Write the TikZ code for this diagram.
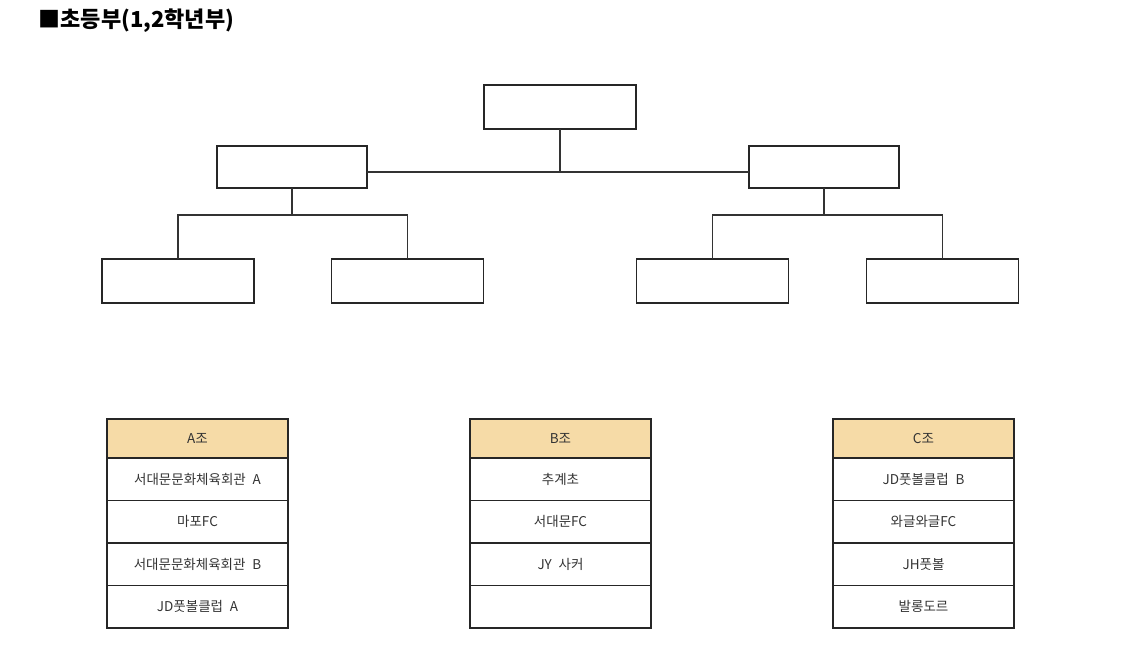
\documentclass[tikz,border=0pt]{standalone}
\usepackage{fontspec}
\setmainfont{Noto Sans CJK KR}
\usetikzlibrary{positioning}

\definecolor{headtan}{HTML}{F6DBA7}

\tikzset{
    box/.style={draw=black!85, line width=1.2pt, minimum width=152pt,
        minimum height=44pt, inner sep=0pt, outer sep=0pt},
    cell/.style={draw=black!85, line width=1.1pt, minimum width=181pt,
        minimum height=42.5pt, inner sep=0pt, outer sep=0pt,
        text=black!80, font=\fontsize{13.5}{16}\selectfont},
    head/.style={cell, fill=headtan, minimum height=39pt},
    link/.style={draw=black!80, line width=1.1pt}
}

\begin{document}
\begin{tikzpicture}[x=1pt, y=-1pt]
    \useasboundingbox (0,0) rectangle (1121,647);

    % The title
    \node[anchor=west, font=\bfseries\fontsize{22}{26}\selectfont] (title) at (35,21) {■초등부(1,2학년부)};

    % the empty boxes of the bracket
    \node[box] (final) at (560,107) {};
    \node[box, minimum width=150pt, minimum height=42pt] (semiL) at (292,167) {};
    \node[box, minimum width=150pt, minimum height=42pt] (semiR) at (824,167) {};
    \node[box] (qfLL) at (178,281) {};
    \node[box] (qfLR) at (407.5,281) {};
    \node[box] (qfRL) at (712.5,281) {};
    \node[box] (qfRR) at (942.5,281) {};

    % the joints of the bracket lines
    \coordinate (jTop) at (final.south |- 0,172);
    \coordinate (jL) at (semiL.south |- 0,215);
    \coordinate (jR) at (semiR.south |- 0,215);

    % Line from the final down, and the line between the two semi finals
    \draw[link] (final.south) -- (jTop);
    \draw[link] (semiL.east |- jTop) -- (semiR.west |- jTop);
    % Lines below the left semi final
    \draw[link] (semiL.south) -- (jL);
    \draw[link] (qfLL.north) |- (jL) -| (qfLR.north);
    % Lines below the right semi final
    \draw[link] (semiR.south) -- (jR);
    \draw[link] (qfRL.north) |- (jR) -| (qfRR.north);

    % The table of group A
    \node[head] (A0) at (197.5,438.5) {A조};
    \foreach \team [count=\i, remember=\i as \j (initially 0)] in
        {서대문문화체육회관\enspace A, 마포FC, 서대문문화체육회관\enspace B, JD풋볼클럽\enspace A}
        \node[cell, below=0pt of A\j] (A\i) {\team};

    % The table of group B
    \node[head] (B0) at (560.5,438.5) {B조};
    \foreach \team [count=\i, remember=\i as \j (initially 0)] in
        {추계초, 서대문FC, JY\enspace 사커, {}}
        \node[cell, below=0pt of B\j] (B\i) {\team};

    % The table of group C
    \node[head] (C0) at (923.5,438.5) {C조};
    \foreach \team [count=\i, remember=\i as \j (initially 0)] in
        {JD풋볼클럽\enspace B, 와글와글FC, JH풋볼, 발롱도르}
        \node[cell, below=0pt of C\j] (C\i) {\team};
\end{tikzpicture}
\end{document}
